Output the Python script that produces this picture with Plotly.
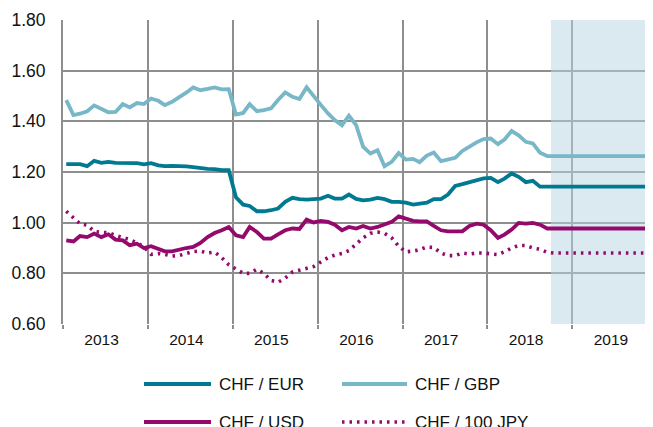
import pandas as pd
import plotly.graph_objects as go

# monthly observations, Jan 2013 .. Sep 2018 (mid-month)
dates = pd.date_range("2013-01-01", periods=69, freq="MS") + pd.Timedelta(days=14)

chf_eur = [1.231, 1.232, 1.231, 1.223, 1.244, 1.236, 1.240, 1.236, 1.236, 1.235, 1.235, 1.230,
           1.235, 1.226, 1.223, 1.224, 1.224, 1.222, 1.219, 1.214, 1.212, 1.211, 1.207, 1.207,
           1.100, 1.071, 1.066, 1.045, 1.045, 1.049, 1.056, 1.082, 1.098, 1.093, 1.091, 1.093,
           1.095, 1.106, 1.095, 1.095, 1.111, 1.094, 1.088, 1.091, 1.098, 1.093, 1.082, 1.082,
           1.079, 1.071, 1.075, 1.079, 1.093, 1.093, 1.111, 1.145, 1.152, 1.160, 1.169, 1.175,
           1.177, 1.160, 1.174, 1.194, 1.181, 1.160, 1.165, 1.142, 1.142]
chf_gbp = [1.484, 1.425, 1.430, 1.440, 1.463, 1.448, 1.436, 1.437, 1.468, 1.455, 1.472, 1.468,
           1.490, 1.481, 1.464, 1.477, 1.494, 1.513, 1.534, 1.523, 1.528, 1.534, 1.526, 1.527,
           1.427, 1.433, 1.468, 1.440, 1.444, 1.451, 1.484, 1.514, 1.497, 1.488, 1.534, 1.497,
           1.465, 1.431, 1.405, 1.384, 1.422, 1.385, 1.300, 1.273, 1.286, 1.223, 1.240, 1.275,
           1.249, 1.252, 1.239, 1.265, 1.277, 1.243, 1.250, 1.256, 1.283, 1.300, 1.317, 1.330,
           1.332, 1.310, 1.328, 1.362, 1.345, 1.319, 1.313, 1.276, 1.263]
chf_usd = [0.930, 0.926, 0.947, 0.943, 0.957, 0.943, 0.954, 0.933, 0.930, 0.911, 0.917, 0.900,
           0.907, 0.898, 0.887, 0.887, 0.894, 0.900, 0.904, 0.920, 0.943, 0.959, 0.970, 0.983,
           0.950, 0.943, 0.983, 0.963, 0.937, 0.937, 0.954, 0.970, 0.977, 0.975, 1.012, 1.001,
           1.007, 1.003, 0.992, 0.970, 0.983, 0.977, 0.987, 0.977, 0.983, 0.994, 1.003, 1.025,
           1.016, 1.007, 1.005, 1.005, 0.987, 0.970, 0.966, 0.967, 0.966, 0.987, 0.996, 0.992,
           0.970, 0.940, 0.953, 0.973, 0.999, 0.996, 0.999, 0.992, 0.977]
chf_jpy = [1.045, 1.020, 0.996, 0.990, 0.966, 0.961, 0.961, 0.950, 0.943, 0.933, 0.921, 0.904,
           0.875, 0.878, 0.875, 0.868, 0.870, 0.880, 0.886, 0.888, 0.880, 0.884, 0.862, 0.834,
           0.818, 0.800, 0.800, 0.816, 0.800, 0.772, 0.765, 0.781, 0.805, 0.812, 0.822, 0.827,
           0.845, 0.862, 0.872, 0.878, 0.890, 0.915, 0.940, 0.958, 0.963, 0.958, 0.940, 0.907,
           0.885, 0.888, 0.893, 0.904, 0.902, 0.880, 0.870, 0.870, 0.880, 0.876, 0.880, 0.880,
           0.876, 0.874, 0.885, 0.900, 0.910, 0.910, 0.900, 0.895, 0.883]

# flat assumption over the forecast horizon
forecast_dates = ["2018-10-15", "2020-01-31"]
fc_eur = [1.142, 1.142]
fc_gbp = [1.263, 1.263]
fc_usd = [0.977, 0.977]
fc_jpy = [0.880, 0.880]

forecast_start = "2018-10-01"
forecast_end = "2020-06-01"

# year labels (placed mid-year) and year boundaries (grid)
year_labels = ["2013", "2014", "2015", "2016", "2017", "2018", "2019"]
year_label_pos = [f"{y}-06-16" for y in year_labels]

names = ["CHF / EUR", "CHF / GBP", "CHF / USD", "CHF / 100 JPY"]
colors = ["#007A90", "#78B7C7", "#940A6C", "#940A6C"]
dashes = ["solid", "solid", "solid", "2.5px,5px"]
series = [(chf_eur, fc_eur), (chf_gbp, fc_gbp), (chf_usd, fc_usd), (chf_jpy, fc_jpy)]

x_all = list(dates.strftime("%Y-%m-%d")) + forecast_dates
y_lo, y_hi = 0.6, 1.8

fig = go.Figure()
# forecast-period shading (a trace, so it sits above the grid and below the lines)
fig.add_trace(go.Scatter(
    x=[forecast_start, forecast_end, forecast_end, forecast_start, forecast_start],
    y=[y_lo, y_lo, y_hi, y_hi, y_lo], mode="lines", fill="toself",
    fillcolor="rgba(183,213,226,0.5)", line=dict(width=0), hoverinfo="skip", showlegend=False))

for name, col, dash, (hist, fc) in zip(names, colors, dashes, series):
    fig.add_trace(go.Scatter(
        x=x_all, y=hist + fc, mode="lines", name=name, showlegend=False,
        line=dict(color=col, width=3.8 if dash == "solid" else 3.6, dash=dash)))

grid = "#8E8E8E"

# page is offset by the 8px default body margin
FIG_W, FIG_H = 645, 419
ML, MT, MB, MR = 55, 12, 103, 0

# legend (drawn manually, two columns); positions in page pixels
OFF = 8
L, T = ML + OFF, MT + OFF
W, H = FIG_W - ML - MR, FIG_H - MT - MB
def px(xp): return (xp - L) / W
def py(yp): return (T + H - yp) / H
leg = [(144, 211, 217, 384), (342, 407, 413, 384), (144, 211, 217, 422), (342, 407, 413, 422)]
for (x0, x1, xt, yy), name, col, dash in zip(leg, names, colors, dashes):
    fig.add_shape(type="line", xref="paper", yref="paper", x0=px(x0), x1=px(x1),
                  y0=py(yy), y1=py(yy), line=dict(color=col, width=4 if dash == "solid" else 3.6, dash=dash))
    fig.add_annotation(xref="paper", yref="paper", x=px(xt), y=py(yy), text=name,
                       showarrow=False, xanchor="left", yanchor="middle",
                       font=dict(size=17, color="#111111"))

fig.update_layout(
    width=FIG_W, height=FIG_H, margin=dict(l=ML, r=MR, t=MT, b=MB),
    paper_bgcolor="white", plot_bgcolor="white",
    font=dict(family="Liberation Sans, Arial, sans-serif", color="#111111"),
    showlegend=False,
)
fig.update_xaxes(type="date", range=["2013-01-01", "2019-12-14"],
                 tickmode="array", tickvals=year_label_pos, ticktext=year_labels,
                 showgrid=False, ticks="", ticklabelstandoff=4,
                 minor=dict(dtick="M12", tick0="2013-01-01", showgrid=True, gridcolor=grid,
                            gridwidth=2, ticks="outside", ticklen=4, tickwidth=2, tickcolor=grid),
                 showline=False, zeroline=False, tickfont=dict(size=15.5))
fig.update_yaxes(range=[y_lo, y_hi], dtick=0.2, tick0=0.6, tickformat=".2f", showgrid=True,
                 gridcolor=grid, gridwidth=2, showline=True, linecolor=grid, linewidth=2,
                 zeroline=False, ticks="outside", ticklen=12, tickcolor="rgba(0,0,0,0)",
                 tickfont=dict(size=17.5))

fig.write_html("out.html")
